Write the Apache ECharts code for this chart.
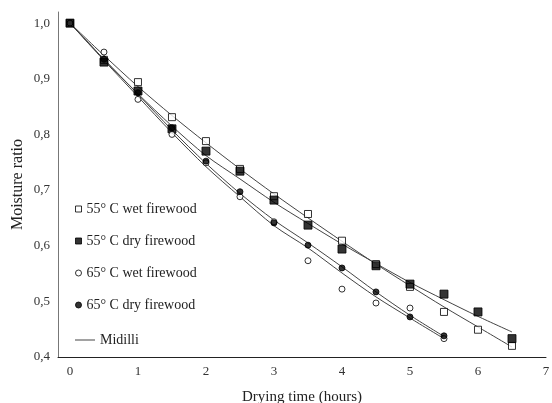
<!DOCTYPE html>
<html>
<head>
<meta charset="utf-8">
<script src="https://cdn.jsdelivr.net/npm/echarts@6/dist/echarts.min.js"></script>
<style>
html, body { margin: 0; padding: 0; background: #fff; }
#chart { width: 552px; height: 403px; }
</style>
</head>
<body>
<div id="chart"></div>
<script>
// drying time (hours)
var times = [0, 0.5, 1, 1.5, 2, 2.5, 3, 3.5, 4, 4.5, 5, 5.5, 6, 6.5];
var times65 = [0, 0.5, 1, 1.5, 2, 2.5, 3, 3.5, 4, 4.5, 5, 5.5];

// measured moisture ratio
var wet55 = [1.0, 0.934, 0.894, 0.831, 0.788, 0.738, 0.689, 0.657, 0.609, 0.567, 0.526, 0.481, 0.449, 0.420];
var dry55 = [1.0, 0.930, 0.878, 0.810, 0.770, 0.734, 0.682, 0.637, 0.594, 0.564, 0.531, 0.513, 0.481, 0.433];
var wet65 = [1.0, 0.948, 0.863, 0.800, 0.749, 0.688, 0.643, 0.573, 0.522, 0.497, 0.488, 0.433];
var dry65 = [1.0, 0.935, 0.875, 0.812, 0.752, 0.697, 0.641, 0.601, 0.560, 0.517, 0.472, 0.438];

// Midilli fitted curves
var fitWet55 = [1.0, 0.942, 0.886, 0.834, 0.785, 0.738, 0.693, 0.650, 0.608, 0.567, 0.528, 0.490, 0.454, 0.418];
var fitDry55 = [1.0, 0.935, 0.873, 0.815, 0.762, 0.720, 0.678, 0.640, 0.603, 0.568, 0.534, 0.503, 0.473, 0.445];
var fitWet65 = [1.0, 0.933, 0.868, 0.803, 0.742, 0.688, 0.636, 0.596, 0.551, 0.508, 0.470, 0.433];
var fitDry65 = [1.0, 0.935, 0.872, 0.808, 0.748, 0.694, 0.646, 0.605, 0.562, 0.517, 0.475, 0.437];

var yTicks = ['0,4', '0,5', '0,6', '0,7', '0,8', '0,9', '1,0'];

function pairs(xs, ys) {
	return ys.map(function(v, i) { return [xs[i], v]; });
}

var font = 'Liberation Serif';
var lineColor = '#444';

function fitLine(xs, ys) {
	return {
		name: 'Midilli',
		type: 'line',
		data: pairs(xs, ys),
		smooth: 0.3,
		symbol: 'none',
		lineStyle: { color: lineColor, width: 1 },
		itemStyle: { color: lineColor },
		silent: true,
		z: 1
	};
}

function points(name, xs, ys, symbol, size, filled) {
	return {
		name: name,
		type: 'scatter',
		data: pairs(xs, ys),
		symbol: symbol,
		symbolSize: size,
		itemStyle: {
			color: filled ? '#000' : '#fff',
			borderColor: '#000',
			borderWidth: 1
		},
		z: 3
	};
}

var chart = echarts.init(document.getElementById('chart'));
chart.setOption({
	animation: false,
	backgroundColor: '#fff',
	grid: { left: 58, right: 6, top: 12, bottom: 46, outerBoundsMode: 'none', containLabel: false },
	legend: [{
		data: ['55° C wet firewood', '55° C dry firewood', '65° C wet firewood', '65° C dry firewood'],
		orient: 'vertical',
		left: 70,
		top: 197,
		itemWidth: 6,
		itemHeight: 6,
		itemGap: 18,
		itemTextGap: 11,
		itemStyle: { borderWidth: 1 },
		textStyle: { fontFamily: font, fontSize: 14, color: '#222', lineHeight: 14 }
	}, {
		data: [{ name: 'Midilli', icon: 'path://M0,0L20,0L20,1L0,1Z' }],
		orient: 'vertical',
		left: 70,
		top: 328,
		itemWidth: 20,
		itemHeight: 1,
		itemTextGap: 6,
		textStyle: { fontFamily: font, fontSize: 14, color: '#222', lineHeight: 14 }
	}],
	xAxis: {
		type: 'value',
		min: -0.176,
		max: 7,
		splitNumber: 7,
		minInterval: 1,
		maxInterval: 1,
		name: 'Drying time (hours)',
		nameLocation: 'middle',
		nameGap: 33,
		nameMoveOverlap: false,
		nameTextStyle: { fontFamily: font, fontSize: 15, color: '#222' },
		axisLine: { onZero: false, lineStyle: { color: '#222', width: 1 } },
		axisTick: { show: false },
		splitLine: { show: false },
		axisLabel: {
			fontFamily: font, fontSize: 13, color: '#333', margin: 8,
			formatter: function(v) {
				return Math.abs(v - Math.round(v)) > 1e-6 ? '' : String(Math.round(v));
			}
		}
	},
	yAxis: {
		type: 'value',
		min: 0.4,
		max: 1.02,
		interval: 0.1,
		name: 'Moisture ratio',
		nameLocation: 'middle',
		nameGap: 32,
		nameMoveOverlap: false,
		nameTextStyle: { fontFamily: font, fontSize: 16, color: '#222' },
		axisLine: { show: true, onZero: false, lineStyle: { color: '#777', width: 1 } },
		axisTick: { show: false },
		splitLine: { show: false },
		axisLabel: {
			fontFamily: font, fontSize: 13, color: '#333', margin: 8,
			formatter: function(v) {
				var k = Math.round((v - 0.4) * 10);
				if (Math.abs(v - (0.4 + k / 10)) > 1e-6) return '';
				return yTicks[k] || '';
			}
		}
	},
	series: [
		fitLine(times, fitWet55),
		fitLine(times, fitDry55),
		fitLine(times65, fitWet65),
		fitLine(times65, fitDry65),
		points('55° C wet firewood', times, wet55, 'rect', 7, false),
		points('55° C dry firewood', times, dry55, 'rect', 8, true),
		points('65° C wet firewood', times65, wet65, 'circle', 6, false),
		points('65° C dry firewood', times65, dry65, 'circle', 6, true)
	]
});
</script>
</body>
</html>
